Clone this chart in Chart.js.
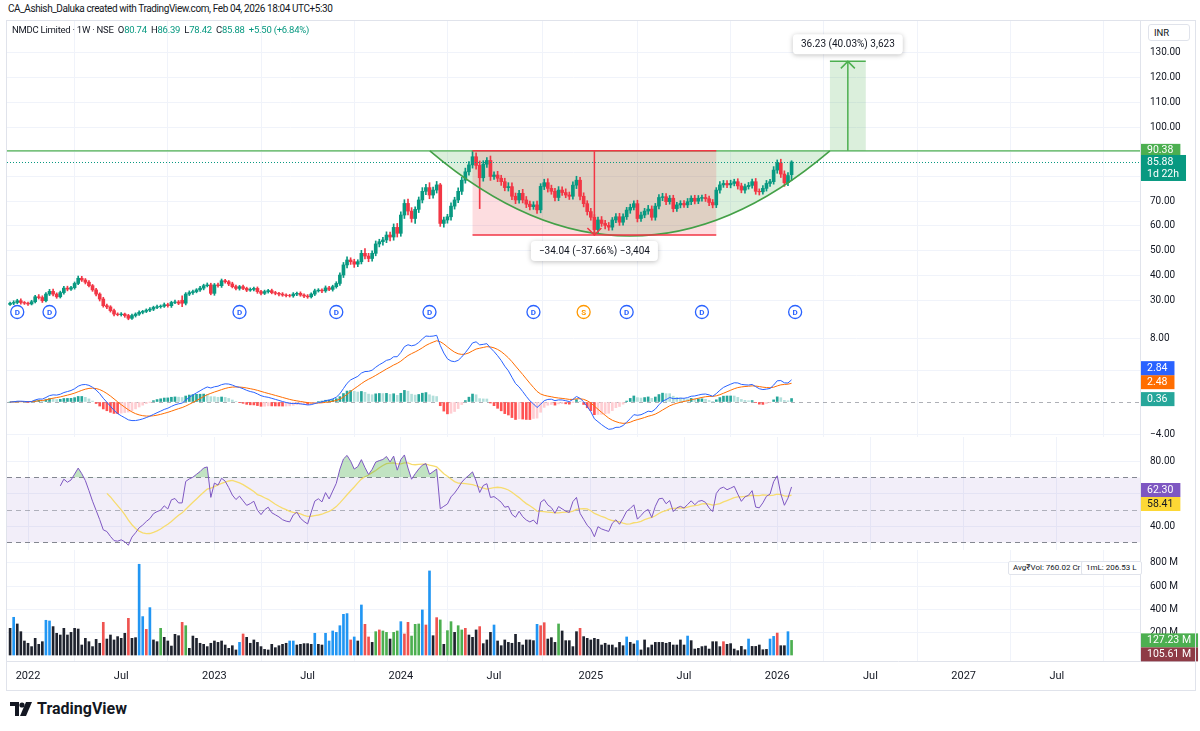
<!DOCTYPE html>
<html>
<head>
<meta charset="utf-8">
<title>NMDC Limited · 1W · NSE</title>
<script src="https://cdn.jsdelivr.net/npm/chart.js@4.4.1/dist/chart.umd.min.js"></script>
<style>
  html, body { margin: 0; padding: 0; background: #fff; }
  body { width: 1200px; height: 731px; position: relative; overflow: hidden;
         font-family: Roboto, "Noto Sans", sans-serif; color: #131722; }
  .pane { position: absolute; left: 0; width: 1200px; }
  .pane canvas { display: block; }
  #hdr { position: absolute; left: 8px; top: 3px; font-size: 10px; letter-spacing: -0.4px; white-space: nowrap; }
  #legend { position: absolute; left: 12px; top: 24px; font-size: 9.5px; letter-spacing: -0.25px; white-space: nowrap; }
  #legend .v { color: #089981; }
  #inr { position: absolute; left: 1148px; top: 24px; width: 42px; height: 17px; border: 1px solid #e0e3eb;
         border-radius: 3px; box-sizing: border-box; font-size: 9.5px; line-height: 15px; padding-left: 5px; background: #fff; }
  .info { position: absolute; top: 561px; height: 14px; box-sizing: border-box; border: 1px solid #e0e3eb;
          border-radius: 2px; font-size: 8px; line-height: 12px; padding: 0 4px; background: #fff; white-space: nowrap; }
  #frame { position: absolute; left: 6px; top: 20px; width: 1190px; height: 671px; border: 1px solid #e0e3eb;
           box-sizing: border-box; pointer-events: none; }
  #logo { position: absolute; left: 10px; top: 699px; display: flex; align-items: center; gap: 5px;
          font-size: 16px; font-weight: 700; color: #131722; }
</style>
</head>
<body>
<div id="hdr">CA_Ashish_Daluka created with TradingView.com, Feb 04, 2026 18:04 UTC+5:30</div>

<div class="pane" style="top:20px"><canvas id="priceChart" width="1200" height="305"></canvas></div>
<div class="pane" style="top:325px"><canvas id="macdChart" width="1200" height="112"></canvas></div>
<div class="pane" style="top:437px"><canvas id="rsiChart" width="1200" height="113"></canvas></div>
<div class="pane" style="top:550px"><canvas id="volChart" width="1200" height="140"></canvas></div>

<div id="frame"></div>
<div id="legend">NMDC Limited · 1W · NSE&nbsp; O<span class="v">80.74</span>&nbsp; H<span class="v">86.39</span>&nbsp; L<span class="v">78.42</span>&nbsp; C<span class="v">85.88</span>&nbsp; <span class="v">+5.50 (+6.84%)</span></div>
<div id="inr">INR</div>
<div class="info" style="left:1008px">Avg₹Vol: 760.02 Cr</div>
<div class="info" style="left:1081px">1mL: 206.53 L</div>
<div id="logo">
  <svg width="22" height="14" viewBox="0 0 22 14"><path d="M0 0h9v14H5V4H0z" fill="#131722"/><circle cx="12" cy="3" r="2.6" fill="#131722"/><path d="M16 0h6l-6 14h-6z" fill="#131722"/></svg>
  <span>TradingView</span>
</div>

<script>
// weekly candles, first one is the week of 29 Nov 2021, last one the week of 2 Feb 2026
const firstWeek = '2021-11-29';

const close = [
  28.7, 29.0, 29.7, 29.0, 28.7, 28.4, 29.3, 31.3, 31.0, 29.7,
  32.4, 33.5, 32.4, 31.3, 33.0, 34.8, 34.4, 35.0, 36.7, 38.8,
  38.1, 37.2, 35.8, 34.1, 32.4, 30.4, 27.7, 27.2, 25.7, 24.3,
  24.1, 24.3, 23.7, 22.6, 23.7, 24.3, 25.0, 25.4, 25.9, 26.3,
  27.0, 27.3, 27.5, 28.1, 27.7, 29.0, 29.2, 28.7, 28.7, 32.4,
  33.0, 33.4, 34.1, 34.8, 35.8, 36.1, 32.7, 36.1, 35.8, 37.8,
  37.4, 36.5, 35.4, 34.7, 35.4, 34.7, 34.0, 34.3, 34.7, 33.4,
  32.7, 33.4, 33.8, 33.0, 32.7, 32.4, 32.0, 31.8, 31.7, 32.4,
  32.7, 32.0, 31.6, 31.3, 32.4, 33.7, 34.0, 33.7, 34.9, 34.3,
  35.4, 36.7, 40.1, 44.2, 46.2, 45.5, 44.5, 45.5, 48.9, 47.8,
  46.8, 48.9, 52.7, 53.6, 54.3, 56.3, 55.5, 59.4, 57.0, 64.4,
  69.1, 66.0, 63.0, 66.7, 70.5, 74.0, 75.5, 72.5, 74.5, 76.6,
  61.0, 62.4, 63.7, 68.0, 70.5, 74.0, 78.5, 81.9, 84.7, 88.0,
  84.5, 79.5, 85.0, 86.5, 80.0, 80.6, 79.3, 77.9, 75.5, 75.9,
  72.0, 70.5, 73.2, 70.5, 68.8, 67.8, 68.5, 66.5, 76.0, 77.5,
  75.2, 74.0, 71.5, 74.5, 73.5, 72.5, 72.0, 76.5, 78.5, 72.0,
  69.0, 65.8, 63.5, 58.5, 62.4, 61.0, 60.2, 59.5, 62.4, 63.7,
  61.5, 63.7, 66.4, 67.5, 69.0, 63.0, 64.4, 66.0, 66.8, 63.5,
  68.0, 71.5, 71.8, 69.8, 71.2, 67.0, 68.5, 69.1, 68.5, 69.8,
  71.2, 70.0, 71.2, 71.5, 71.0, 69.5, 68.5, 74.5, 76.6, 77.2,
  76.6, 77.2, 77.9, 76.2, 74.5, 75.9, 76.4, 77.9, 74.0, 73.8,
  75.2, 77.2, 77.9, 82.6, 85.5, 81.0, 77.5, 80.38, 85.88
];

const open = [
  28.2, 28.7, 29.0, 29.7, 29.0, 28.7, 28.4, 29.3, 31.3, 31.0,
  29.7, 32.4, 33.5, 32.4, 31.3, 33.0, 34.8, 34.4, 35.0, 36.7,
  38.8, 38.1, 37.2, 35.8, 34.1, 32.4, 30.4, 27.7, 27.2, 25.7,
  24.3, 24.1, 24.3, 23.7, 22.6, 23.7, 24.3, 25.0, 25.4, 25.9,
  26.3, 27.0, 27.3, 27.5, 28.1, 27.7, 29.0, 29.2, 29.9, 28.7,
  32.4, 33.0, 33.4, 34.1, 34.8, 35.8, 36.1, 32.7, 36.1, 35.8,
  37.8, 37.4, 36.5, 35.4, 34.7, 35.4, 34.7, 34.0, 34.3, 34.7,
  33.4, 32.7, 33.4, 33.8, 33.0, 32.7, 32.4, 32.0, 31.8, 31.7,
  32.4, 32.7, 32.0, 31.6, 31.3, 32.4, 33.7, 34.0, 33.7, 34.9,
  34.3, 35.4, 36.7, 40.1, 44.2, 46.2, 45.5, 44.5, 45.5, 48.9,
  47.8, 46.8, 48.9, 52.7, 53.6, 54.3, 56.3, 55.5, 59.4, 57.0,
  64.4, 69.1, 66.0, 63.0, 66.7, 70.5, 74.0, 75.5, 72.5, 74.5,
  76.6, 61.0, 62.4, 63.7, 68.0, 70.5, 74.0, 78.5, 81.9, 84.7,
  88.0, 84.5, 79.5, 85.0, 86.5, 80.0, 80.6, 79.3, 77.9, 75.5,
  75.9, 72.0, 70.5, 73.2, 70.5, 68.8, 67.8, 68.5, 66.5, 76.0,
  77.5, 75.2, 74.0, 71.5, 74.5, 73.5, 72.5, 72.0, 76.5, 78.5,
  72.0, 69.0, 65.8, 63.5, 58.5, 62.4, 61.0, 60.2, 59.5, 62.4,
  63.7, 61.5, 63.7, 66.4, 67.5, 69.0, 63.0, 64.4, 66.0, 66.8,
  63.5, 68.0, 71.5, 71.8, 69.8, 71.2, 67.0, 68.5, 69.1, 68.5,
  69.8, 71.2, 70.0, 71.2, 71.5, 71.0, 69.5, 68.5, 74.5, 76.6,
  77.2, 76.6, 77.2, 77.9, 76.2, 74.5, 75.9, 76.4, 77.9, 74.0,
  73.8, 75.2, 77.2, 77.9, 82.6, 85.5, 81.0, 77.5, 80.74
];

// wick length above the body and below the body
const upWick = [
  0.5, 0.7, 0.6, 0.8, 0.4, 0.5, 0.6, 0.6, 0.9, 0.7,
  0.6, 0.8, 0.9, 0.5, 0.6, 0.7, 0.8, 0.5, 0.6, 0.9,
  0.8, 0.6, 0.7, 0.5, 0.6, 0.5, 0.7, 0.6, 0.5, 0.6,
  0.5, 0.6, 0.4, 0.5, 0.6, 0.5, 0.6, 0.4, 0.5, 0.6,
  0.5, 0.6, 0.5, 0.7, 0.6, 0.5, 0.8, 0.6, 1.8, 0.6,
  0.7, 0.6, 0.5, 0.7, 0.6, 0.8, 0.7, 0.6, 0.8, 0.7,
  0.6, 0.5, 0.7, 0.6, 0.5, 0.6, 0.5, 0.6, 0.5, 0.6,
  0.5, 0.6, 0.5, 0.6, 0.5, 0.4, 0.6, 0.5, 0.5, 0.6,
  0.5, 0.6, 0.5, 0.6, 0.5, 0.7, 0.6, 0.5, 0.8, 0.6,
  0.6, 0.7, 0.9, 1.0, 1.3, 0.9, 1.0, 0.8, 1.2, 1.9,
  1.1, 1.0, 1.2, 1.0, 1.1, 1.3, 1.2, 1.4, 1.6, 1.3,
  1.5, 1.8, 1.4, 1.0, 1.2, 1.5, 1.3, 2.0, 1.2, 1.4,
  0.6, 1.2, 1.0, 1.3, 1.1, 1.4, 1.2, 1.5, 1.3, 2.38,
  1.6, 1.8, 1.4, 1.2, 1.8, 1.3, 1.5, 1.2, 1.4, 1.6,
  1.5, 1.3, 1.2, 1.6, 1.4, 1.2, 1.3, 1.5, 1.1, 1.4,
  1.6, 1.3, 1.2, 1.4, 1.3, 1.5, 1.2, 1.3, 1.6, 1.2,
  1.4, 1.2, 1.3, 1.1, 1.2, 1.4, 1.3, 1.2, 1.0, 1.3,
  1.4, 1.2, 1.1, 1.3, 1.2, 1.4, 1.2, 1.1, 1.5, 1.3,
  1.1, 1.2, 1.4, 1.3, 1.1, 1.2, 1.0, 1.1, 1.2, 1.3,
  1.0, 1.2, 1.1, 1.0, 1.3, 1.1, 1.2, 1.0, 1.3, 1.2,
  1.1, 1.3, 1.0, 1.2, 1.1, 1.0, 1.2, 1.1, 1.3, 1.0,
  1.1, 1.2, 1.0, 1.4, 1.2, 1.5, 1.3, 1.2, 0.51
];
const loWick = [
  0.4, 0.6, 0.5, 0.7, 0.5, 0.6, 0.4, 0.5, 0.6, 0.7,
  0.5, 0.6, 0.7, 0.6, 0.5, 0.6, 0.7, 0.5, 0.6, 0.5,
  0.6, 0.7, 0.5, 0.6, 0.7, 0.8, 0.6, 0.7, 0.6, 0.7,
  0.5, 0.6, 0.7, 0.6, 0.5, 0.6, 0.5, 0.6, 0.5, 0.6,
  0.6, 0.5, 0.6, 0.5, 0.6, 0.7, 0.5, 0.6, 1.4, 0.7,
  0.6, 0.7, 0.5, 0.6, 0.7, 0.5, 0.6, 0.8, 0.6, 0.7,
  0.6, 0.7, 0.5, 0.6, 0.7, 0.5, 0.6, 0.5, 0.6, 0.7,
  0.6, 0.5, 0.6, 0.5, 0.6, 0.7, 0.5, 0.6, 0.5, 0.6,
  0.6, 0.5, 0.7, 0.6, 0.5, 0.6, 0.5, 0.7, 0.6, 0.5,
  0.7, 0.6, 0.8, 1.0, 1.2, 1.1, 1.3, 1.0, 0.9, 1.2,
  1.3, 1.1, 1.0, 1.2, 1.4, 1.1, 1.6, 1.3, 1.5, 1.2,
  1.4, 1.6, 1.5, 2.0, 1.3, 1.2, 1.4, 1.5, 1.3, 1.2,
  1.2, 1.5, 1.3, 1.4, 1.2, 1.1, 1.3, 1.2, 1.4, 1.3,
  1.5, 12.5, 1.4, 1.3, 1.6, 1.2, 1.4, 1.5, 1.3, 1.4,
  1.4, 1.5, 1.3, 1.2, 1.4, 1.3, 1.1, 1.4, 1.2, 1.3,
  1.5, 1.2, 1.4, 1.3, 1.2, 1.1, 1.3, 1.2, 1.4, 1.5,
  1.3, 1.4, 1.2, 2.2, 1.3, 1.2, 1.4, 1.3, 1.2, 1.1,
  1.3, 1.2, 1.1, 1.3, 1.0, 1.4, 1.2, 1.1, 1.3, 1.2,
  1.2, 1.1, 1.3, 1.2, 1.0, 1.3, 1.1, 1.2, 1.0, 1.1,
  1.2, 1.1, 1.0, 1.2, 1.1, 1.3, 1.2, 1.1, 1.2, 1.0,
  1.1, 1.2, 1.0, 1.3, 1.1, 1.2, 1.0, 1.1, 1.2, 1.3,
  1.0, 1.1, 1.2, 1.0, 1.3, 1.4, 1.5, 1.2, 2.32
];

// weekly volume in millions of shares
const volume = [
  232, 328, 270, 203, 122, 102, 73, 145, 93, 116,
  302, 296, 247, 189, 174, 232, 174, 197, 232, 226,
  87, 145, 116, 73, 136, 102, 284, 139, 174, 131,
  160, 145, 189, 319, 145, 151, 789, 334, 223, 412,
  131, 116, 232, 154, 122, 78, 180, 168, 284, 255,
  58, 165, 145, 102, 93, 73, 102, 122, 110, 122,
  87, 58, 81, 44, 110, 183, 154, 102, 131, 110,
  73, 49, 44, 93, 64, 81, 93, 102, 122, 122,
  87, 93, 99, 99, 93, 189, 93, 87, 189, 122,
  209, 197, 255, 354, 360, 131, 157, 122, 435, 267,
  157, 110, 203, 218, 209, 197, 139, 197, 209, 290,
  183, 284, 165, 267, 270, 392, 261, 731, 168, 325,
  305, 93, 212, 290, 197, 255, 218, 232, 174, 154,
  218, 247, 99, 131, 197, 261, 122, 81, 131, 110,
  102, 180, 110, 87, 131, 131, 125, 267, 255, 281,
  139, 151, 110, 270, 209, 125, 125, 73, 203, 232,
  160, 145, 131, 145, 136, 87, 102, 87, 87, 64,
  110, 81, 157, 110, 96, 125, 44, 131, 64, 87,
  110, 110, 110, 102, 110, 87, 87, 131, 87, 165,
  125, 52, 58, 73, 78, 52, 116, 116, 73, 116,
  93, 99, 52, 38, 75, 46, 139, 75, 75, 87,
  46, 49, 139, 162, 191, 81, 81, 203, 127.23
];
// volume bar colour: k black, b blue, r red, g green
const volColor = [
  'kbkkkkkkkk', 'bbkkkkkkkk', 'kkkkkkrkkk', 'kkkrkkbbrb', 'kkgkkkkkrg',
  'kkkkkkkkkk', 'kkkkbrkkkk', 'kkkkkkkkbb', 'kkkkkbkkbb', 'bbbbbrbkbr',
  'rkgrggkggb', 'rrgggbrbkr', 'gkggkggrkk', 'krkkkbkkkk', 'kkkkkkkbrr',
  'kkkgkkkkkr', 'kkkkkkkkkk', 'kkbkkbkkkk', 'kkkkkkkkkb', 'kkkkkkkkkr',
  'kkkkkkbkkk', 'kkbbrkkbg'
].join('').split('');

const tickLabels = ['2022', 'Jul', '2023', 'Jul', '2024', 'Jul', '2025', 'Jul', '2026', 'Jul', '2027', 'Jul'];
const tickMonths = ['2022-01', '2022-07', '2023-01', '2023-07', '2024-01', '2024-07',
                    '2025-01', '2025-07', '2026-01', '2026-07', '2027-01', '2027-07'];

// dividend / split markers under the candles (week index)
const eventWeeks = [2, 11, 64, 91, 117, 146, 160, 172, 193, 219];
const eventKinds = ['D', 'D', 'D', 'D', 'D', 'D', 'S', 'D', 'D', 'D'];

// drawings: cup, measured drop, projected target
const rimLevel = 90.38;
const cupSpan = [117.1, 228.7];
const cupLow = 55.9;
const dropSpan = [129, 197];
const dropMid = 163;
const dropLow = 56.34;
const dropText = '−34.04 (−37.66%) −3,404';
const targetSpan = [228.7, 238.7];
const targetHigh = 126.61;
const targetText = '36.23 (40.03%) 3,623';

const lastPrice = 85.88;
const countdown = '1d 22h';
const macdLast = [2.84, 2.48, 0.36];
const rsiLast = [62.30, 58.41];
const volLast = [127.23, 105.61];

// ---------------------------------------------------------------
Chart.defaults.font.family = 'Roboto, "Noto Sans", sans-serif';
Chart.defaults.color = '#131722';
Chart.defaults.animation = false;

const GRID = '#f0f3fa';
const UP = '#089981', DOWN = '#F23645';
const FONT = '10px Roboto, "Noto Sans", sans-serif';
const TAG_FONT = '10.5px Roboto, "Noto Sans", sans-serif';
const weekMs = 7 * 864e5;
const t0 = Date.parse(firstWeek + 'T00:00:00Z');
const tickIdx = tickMonths.map(m => Math.ceil((Date.parse(m + '-01T00:00:00Z') - t0) / weekMs));
const idx = close.map((c, i) => i);
const high = close.map((c, i) => Math.max(c, open[i]) + upWick[i]);
const low = close.map((c, i) => Math.min(c, open[i]) - loWick[i]);
const candleColor = close.map((c, i) => c >= open[i] ? UP : DOWN);

// MACD 12/26/9
function ema(arr, n) {
  const k = 2 / (n + 1), out = [];
  arr.forEach((v, i) => out.push(i ? v * k + out[i - 1] * (1 - k) : v));
  return out;
}
const ema12 = ema(close, 12), ema26 = ema(close, 26);
const macd = close.map((c, i) => ema12[i] - ema26[i]);
const signal = ema(macd, 9);
const hist = macd.map((m, i) => m - signal[i]);
const histColor = hist.map((h, i) => {
  const p = i ? hist[i - 1] : 0;
  return h >= 0 ? (h >= p ? '#26A69A' : '#B2DFDB') : (h < p ? '#FF5252' : '#FFCDD2');
});

// RSI 14 with a 14 bar SMA
const rsi = [];
let avgG = 0, avgL = 0;
close.forEach((c, i) => {
  if (i === 0) { rsi.push(null); return; }
  const ch = c - close[i - 1], g = Math.max(ch, 0), l = Math.max(-ch, 0);
  if (i <= 14) {
    avgG += g / 14; avgL += l / 14;
    rsi.push(i === 14 ? 100 - 100 / (1 + avgG / avgL) : null);
  } else {
    avgG = (avgG * 13 + g) / 14; avgL = (avgL * 13 + l) / 14;
    rsi.push(avgL === 0 ? 100 : 100 - 100 / (1 + avgG / avgL));
  }
});
const rsiMa = rsi.map((r, i) => {
  if (i < 27) return null;
  let s = 0;
  for (let k = i - 13; k <= i; k++) s += rsi[k];
  return s / 14;
});

// ---------------------------------------------------------------
function xAxis(withLabels) {
  return {
    type: 'linear', min: -0.86, max: 315.2, offset: false,
    grid: { color: GRID, drawTicks: false },
    border: { display: false },
    ticks: {
      display: withLabels, autoSkip: false, maxRotation: 0, padding: 9, font: { size: 11 },
      callback: v => { const k = tickIdx.indexOf(v); return k < 0 ? '' : tickLabels[k]; }
    },
    afterBuildTicks: s => { s.ticks = tickIdx.map(v => ({ value: v })); },
    afterFit: s => { s.height = withLabels ? 29 : 0; s.paddingLeft = 0; s.paddingRight = 0; }
  };
}
function yAxis(min, max, ticks, label, gridColor) {
  return {
    position: 'right', min: min, max: max,
    grid: { color: gridColor || GRID, drawTicks: false },
    border: { display: false },
    ticks: { padding: 10, font: { size: 10 }, autoSkip: false, callback: v => label(v) },
    afterBuildTicks: s => { s.ticks = ticks.map(v => ({ value: v })); },
    afterFit: s => { s.width = 60; s.paddingTop = 0; s.paddingBottom = 0; }
  };
}

function drawTags(chart, tags) {
  const { ctx, chartArea: a, scales: { y } } = chart;
  ctx.save();
  ctx.font = TAG_FONT;
  ctx.textBaseline = 'middle';
  const placed = [];
  tags.forEach(t => {
    const lh = 12, h = t.lines.length * lh + 2;
    let cy = y.getPixelForValue(t.v);
    if (!t.fixed) {
      placed.forEach(p => {
        if (Math.abs(cy - p.cy) < h) cy = t.v > p.v ? p.cy - h : p.cy + h;
      });
    }
    placed.push({ cy: cy, v: t.v });
    const w = Math.max(...t.lines.map(s => ctx.measureText(s).width)) + 13;
    ctx.fillStyle = t.bg;
    ctx.fillRect(a.right + 1, cy - lh / 2 - 1, w, h);
    ctx.fillStyle = t.fg;
    t.lines.forEach((s, k) => ctx.fillText(s, a.right + 7, cy + k * lh));
  });
  ctx.restore();
}

function paneBorder(chart) {
  const { ctx, chartArea: a } = chart;
  ctx.save();
  ctx.strokeStyle = '#e0e3eb';
  ctx.lineWidth = 1;
  ctx.beginPath();
  ctx.moveTo(6, Math.round(a.bottom) + 0.5); ctx.lineTo(1196, Math.round(a.bottom) + 0.5);
  ctx.moveTo(Math.round(a.right) + 0.5, 0); ctx.lineTo(Math.round(a.right) + 0.5, a.bottom);
  ctx.stroke();
  ctx.restore();
}

function labelBox(ctx, cx, cy, text) {
  ctx.font = FONT;
  const w = ctx.measureText(text).width + 16, h = 20;
  ctx.save();
  ctx.shadowColor = 'rgba(0,0,0,0.25)';
  ctx.shadowBlur = 5;
  ctx.shadowOffsetY = 1;
  ctx.fillStyle = '#fff';
  ctx.beginPath();
  ctx.roundRect(cx - w / 2, cy - h / 2, w, h, 4);
  ctx.fill();
  ctx.restore();
  ctx.fillStyle = '#131722';
  ctx.textAlign = 'center';
  ctx.textBaseline = 'middle';
  ctx.fillText(text, cx, cy + 0.5);
}

function chevron(ctx, x, y, dir) {
  ctx.beginPath();
  ctx.moveTo(x - 7, y + 7 * dir); ctx.lineTo(x, y); ctx.lineTo(x + 7, y + 7 * dir);
  ctx.stroke();
}

const priceDecor = {
  id: 'priceDecor',
  beforeDatasetsDraw(chart) {
    const { ctx, chartArea: a, scales: { x, y } } = chart;
    ctx.save();
    ctx.beginPath(); ctx.rect(a.left, a.top, a.width, a.height); ctx.clip();
    const yr = y.getPixelForValue(rimLevel);
    const c0 = x.getPixelForValue(cupSpan[0]), c1 = x.getPixelForValue(cupSpan[1]);
    const cb = y.getPixelForValue(cupLow);
    ctx.beginPath();
    ctx.moveTo(c0, yr); ctx.quadraticCurveTo((c0 + c1) / 2, 2 * cb - yr, c1, yr); ctx.closePath();
    ctx.fillStyle = 'rgba(76,175,80,0.2)';
    ctx.fill();
    const b0 = x.getPixelForValue(dropSpan[0]), b1 = x.getPixelForValue(dropSpan[1]);
    const bb = y.getPixelForValue(dropLow);
    ctx.fillStyle = 'rgba(242,54,69,0.17)';
    ctx.fillRect(b0, yr, b1 - b0, bb - yr);
    const t0x = x.getPixelForValue(targetSpan[0]), t1x = x.getPixelForValue(targetSpan[1]);
    const tt = y.getPixelForValue(targetHigh);
    ctx.fillStyle = 'rgba(76,175,80,0.2)';
    ctx.fillRect(t0x, tt, t1x - t0x, yr - tt);
    ctx.restore();
  },
  afterDatasetsDraw(chart) {
    const { ctx, chartArea: a, scales: { x, y } } = chart;
    ctx.save();
    ctx.beginPath(); ctx.rect(a.left, a.top, a.width, a.height); ctx.clip();
    const yr = y.getPixelForValue(rimLevel);
    // last price line
    const yl = Math.round(y.getPixelForValue(lastPrice)) + 0.5;
    ctx.strokeStyle = UP; ctx.lineWidth = 1; ctx.setLineDash([1, 2]);
    ctx.beginPath(); ctx.moveTo(a.left, yl); ctx.lineTo(a.right, yl); ctx.stroke();
    ctx.setLineDash([]);
    // rim line
    ctx.strokeStyle = '#4CAF50'; ctx.lineWidth = 1.2;
    ctx.beginPath(); ctx.moveTo(a.left, yr); ctx.lineTo(a.right, yr); ctx.stroke();
    // cup curve
    const c0 = x.getPixelForValue(cupSpan[0]), c1 = x.getPixelForValue(cupSpan[1]);
    const cb = y.getPixelForValue(cupLow);
    ctx.strokeStyle = '#43A047'; ctx.lineWidth = 1.6;
    ctx.beginPath(); ctx.moveTo(c0, yr); ctx.quadraticCurveTo((c0 + c1) / 2, 2 * cb - yr, c1, yr); ctx.stroke();
    // measured drop
    const b0 = x.getPixelForValue(dropSpan[0]), b1 = x.getPixelForValue(dropSpan[1]);
    const bm = x.getPixelForValue(dropMid), bb = y.getPixelForValue(dropLow);
    ctx.strokeStyle = DOWN; ctx.lineWidth = 1.5;
    ctx.beginPath();
    ctx.moveTo(b0, yr); ctx.lineTo(b1, yr);
    ctx.moveTo(b0, bb); ctx.lineTo(b1, bb);
    ctx.moveTo(bm, yr); ctx.lineTo(bm, bb);
    ctx.stroke();
    chevron(ctx, bm, bb, -1);
    // projected target
    const t0x = x.getPixelForValue(targetSpan[0]), t1x = x.getPixelForValue(targetSpan[1]);
    const tm = (t0x + t1x) / 2, tt = y.getPixelForValue(targetHigh);
    ctx.strokeStyle = '#4CAF50'; ctx.lineWidth = 1.5;
    ctx.beginPath();
    ctx.moveTo(t0x, tt); ctx.lineTo(t1x, tt);
    ctx.moveTo(tm, yr); ctx.lineTo(tm, tt);
    ctx.stroke();
    chevron(ctx, tm, tt, 1);
    // event markers
    const ey = a.bottom - 13;
    ctx.font = 'bold 8px Roboto, sans-serif';
    ctx.textAlign = 'center'; ctx.textBaseline = 'middle';
    eventWeeks.forEach((w, k) => {
      const ex = x.getPixelForValue(w);
      const col = eventKinds[k] === 'S' ? '#FF9800' : '#2962FF';
      ctx.beginPath(); ctx.arc(ex, ey, 6.5, 0, Math.PI * 2);
      ctx.fillStyle = '#fff'; ctx.fill();
      ctx.strokeStyle = col; ctx.lineWidth = 1.3; ctx.stroke();
      ctx.fillStyle = col; ctx.fillText(eventKinds[k], ex, ey + 0.5);
    });
    // measurement labels
    labelBox(ctx, bm, bb + 16, dropText);
    labelBox(ctx, tm, tt - 17, targetText);
    ctx.restore();
  },
  afterDraw(chart) {
    paneBorder(chart);
    drawTags(chart, [
      { v: rimLevel, lines: [rimLevel.toFixed(2)], bg: '#4CAF50', fg: '#fff', fixed: true },
      { v: lastPrice, lines: [lastPrice.toFixed(2), countdown], bg: UP, fg: '#fff', fixed: true }
    ]);
  }
};

new Chart(document.getElementById('priceChart'), {
  type: 'bar',
  data: {
    datasets: [
      { data: idx.map(i => ({ x: i, y: [low[i], high[i]] })), backgroundColor: candleColor,
        barThickness: 1, grouped: false, order: 2 },
      { data: idx.map(i => ({ x: i, y: [open[i], close[i]] })), backgroundColor: candleColor,
        barThickness: 3, grouped: false, order: 1 }
    ]
  },
  options: {
    responsive: false,
    layout: { padding: { left: 7, right: 0, top: 0, bottom: 0 } },
    plugins: { legend: { display: false }, tooltip: { enabled: false } },
    scales: {
      x: xAxis(false),
      y: yAxis(19.88, 143.36, [30, 40, 50, 60, 70, 80, 90, 100, 110, 120, 130],
               v => (v === 80 || v === 90) ? '' : v.toFixed(2))
    }
  },
  plugins: [priceDecor]
});

new Chart(document.getElementById('macdChart'), {
  type: 'bar',
  data: {
    datasets: [
      { type: 'line', data: idx.map(i => ({ x: i, y: macd[i] })), borderColor: '#2962FF', borderWidth: 1,
        pointRadius: 0, order: 0 },
      { type: 'line', data: idx.map(i => ({ x: i, y: signal[i] })), borderColor: '#FF6D00', borderWidth: 1,
        pointRadius: 0, order: 1 },
      { data: idx.map(i => ({ x: i, y: hist[i] })), backgroundColor: histColor, barThickness: 2,
        grouped: false, order: 2 }
    ]
  },
  options: {
    responsive: false,
    layout: { padding: { left: 7, right: 0, top: 0, bottom: 0 } },
    plugins: { legend: { display: false }, tooltip: { enabled: false } },
    scales: {
      x: xAxis(false),
      y: yAxis(-4.375, 9.625, [-4, 0, 4, 8], v => v === 8 ? '8.00' : v === -4 ? '−4.00' : '',
               c => c.tick && c.tick.value === 0 ? 'rgba(0,0,0,0)' : GRID)
    }
  },
  plugins: [{
    id: 'macdDecor',
    beforeDatasetsDraw(chart) {
      const { ctx, chartArea: a, scales: { y } } = chart;
      const y0 = Math.round(y.getPixelForValue(0)) + 0.5;
      ctx.save();
      ctx.strokeStyle = 'rgba(120,123,134,0.6)'; ctx.setLineDash([4, 4]); ctx.lineWidth = 1;
      ctx.beginPath(); ctx.moveTo(a.left, y0); ctx.lineTo(a.right, y0); ctx.stroke();
      ctx.restore();
    },
    afterDraw(chart) {
      paneBorder(chart);
      drawTags(chart, [
        { v: macdLast[2], lines: [macdLast[2].toFixed(2)], bg: '#26A69A', fg: '#fff', fixed: true },
        { v: macdLast[1], lines: [macdLast[1].toFixed(2)], bg: '#FF6D00', fg: '#fff', fixed: true },
        { v: macdLast[0], lines: [macdLast[0].toFixed(2)], bg: '#2962FF', fg: '#fff', fixed: false }
      ]);
    }
  }]
});

new Chart(document.getElementById('rsiChart'), {
  type: 'line',
  data: {
    datasets: [
      { data: idx.map(i => ({ x: i, y: rsi[i] })), borderColor: '#7E57C2', borderWidth: 1, pointRadius: 0,
        fill: { target: { value: 70 }, above: 'rgba(76,175,80,0.35)', below: 'rgba(0,0,0,0)' }, order: 0 },
      { data: idx.map(i => ({ x: i, y: rsiMa[i] })), borderColor: '#F7DC6F', borderWidth: 1.3, pointRadius: 0,
        fill: false, order: 1 }
    ]
  },
  options: {
    responsive: false,
    layout: { padding: { left: 7, right: 0, top: 0, bottom: 0 } },
    plugins: { legend: { display: false }, tooltip: { enabled: false } },
    scales: {
      x: xAxis(false),
      y: yAxis(25.38, 94.92, [40, 60, 80], v => v === 60 ? '' : v.toFixed(2))
    }
  },
  plugins: [{
    id: 'rsiDecor',
    beforeDatasetsDraw(chart) {
      const { ctx, chartArea: a, scales: { y } } = chart;
      const y70 = y.getPixelForValue(70), y30 = y.getPixelForValue(30);
      ctx.save();
      ctx.fillStyle = 'rgba(126,87,194,0.1)';
      ctx.fillRect(a.left, y70, a.width, y30 - y70);
      ctx.setLineDash([5, 4]); ctx.lineWidth = 1;
      [[70, 'rgba(120,123,134,0.9)'], [50, 'rgba(120,123,134,0.55)'], [30, 'rgba(120,123,134,0.9)']].forEach(([v, c]) => {
        const yy = Math.round(y.getPixelForValue(v)) + 0.5;
        ctx.strokeStyle = c;
        ctx.beginPath(); ctx.moveTo(a.left, yy); ctx.lineTo(a.right, yy); ctx.stroke();
      });
      ctx.restore();
    },
    afterDraw(chart) {
      paneBorder(chart);
      drawTags(chart, [
        { v: rsiLast[0], lines: [rsiLast[0].toFixed(2)], bg: '#7E57C2', fg: '#fff', fixed: true },
        { v: rsiLast[1], lines: [rsiLast[1].toFixed(2)], bg: '#FDD835', fg: '#131722', fixed: false }
      ]);
    }
  }]
});

const volPalette = { k: '#1E222D', b: '#2196F3', r: '#EF5350', g: '#4CAF50' };
new Chart(document.getElementById('volChart'), {
  type: 'bar',
  data: {
    datasets: [
      { data: idx.map(i => ({ x: i, y: volume[i] })), backgroundColor: volColor.map(c => volPalette[c]),
        barThickness: 2, grouped: false }
    ]
  },
  options: {
    responsive: false,
    layout: { padding: { left: 7, right: 0, top: 0, bottom: 0 } },
    plugins: { legend: { display: false }, tooltip: { enabled: false } },
    scales: {
      x: xAxis(true),
      y: yAxis(-52, 913, [200, 400, 600, 800], v => v + ' M')
    }
  },
  plugins: [{
    id: 'volDecor',
    afterDraw(chart) {
      paneBorder(chart);
      drawTags(chart, [
        { v: volLast[0], lines: [volLast[0].toFixed(2) + ' M'], bg: '#4CAF50', fg: '#fff', fixed: true },
        { v: volLast[1], lines: [volLast[1].toFixed(2) + ' M'], bg: '#8E3B46', fg: '#fff', fixed: false }
      ]);
    }
  }]
});
</script>
</body>
</html>
